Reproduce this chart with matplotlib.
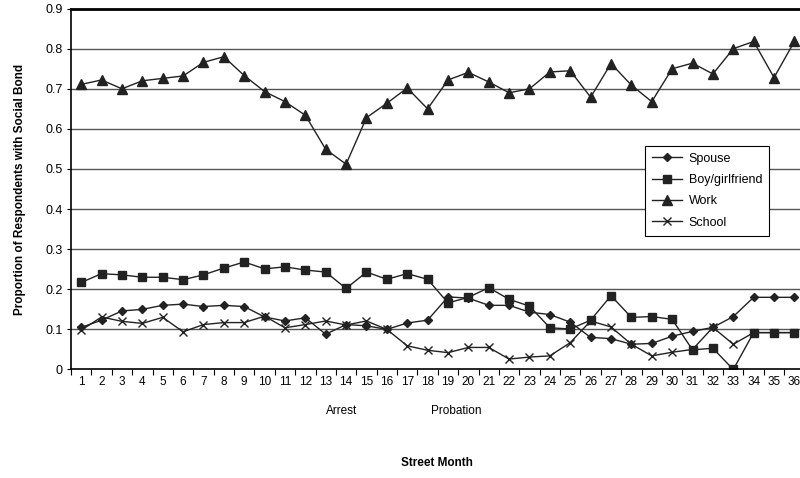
import numpy as np
import matplotlib
matplotlib.use("Agg")
from matplotlib import pyplot as plt
from matplotlib.ticker import FixedLocator, NullFormatter

plt.rcParams['font.family'] = ['Liberation Sans', 'DejaVu Sans']

months = list(range(1, 37))
spouse = [0.105, 0.123, 0.146, 0.150, 0.160, 0.163, 0.157, 0.160, 0.157, 0.131,
          0.121, 0.129, 0.088, 0.112, 0.109, 0.100, 0.116, 0.123, 0.181, 0.178,
          0.160, 0.160, 0.143, 0.137, 0.118, 0.080, 0.077, 0.063, 0.065, 0.083,
          0.095, 0.105, 0.132, 0.180, 0.180, 0.180]
boyfriend = [0.217, 0.239, 0.236, 0.230, 0.230, 0.224, 0.236, 0.253, 0.268, 0.251,
             0.256, 0.248, 0.243, 0.202, 0.243, 0.225, 0.239, 0.225, 0.166, 0.180,
             0.204, 0.175, 0.158, 0.104, 0.101, 0.123, 0.184, 0.130, 0.132, 0.125,
             0.049, 0.053, 0.000, 0.092, 0.092, 0.092]
work = [0.711, 0.722, 0.700, 0.720, 0.726, 0.732, 0.766, 0.780, 0.733, 0.693,
        0.668, 0.634, 0.549, 0.512, 0.628, 0.664, 0.702, 0.650, 0.722, 0.741,
        0.717, 0.690, 0.700, 0.742, 0.745, 0.679, 0.763, 0.709, 0.668, 0.750,
        0.764, 0.737, 0.800, 0.818, 0.728, 0.818]
school = [0.098, 0.131, 0.120, 0.115, 0.130, 0.094, 0.112, 0.117, 0.117, 0.133,
          0.104, 0.112, 0.121, 0.111, 0.121, 0.100, 0.059, 0.048, 0.042, 0.055,
          0.055, 0.026, 0.031, 0.034, 0.067, 0.121, 0.106, 0.063, 0.034, 0.043,
          0.050, 0.105, 0.063, 0.092, 0.092, 0.092]
events = {"Arrest": 13.8, "Probation": 19.4}

fig = plt.figure(figsize=(8, 4.78), dpi=100)
ax = fig.add_axes([0.08875, 0.227, 0.917, 0.755])

for y in np.arange(0.1, 0.85, 0.1):
    ax.axhline(y, color='#555555', lw=1.0, zorder=0)

lc = '#222222'
ax.plot(months, spouse, color=lc, lw=1, marker='D', ms=4.5, label='Spouse')
ax.plot(months, boyfriend, color=lc, lw=1, marker='s', ms=6, label='Boy/girlfriend')
ax.plot(months, work, color=lc, lw=1, marker='^', ms=6.5, label='Work')
ax.plot(months, school, color=lc, lw=1, marker='x', ms=6, mew=1, label='School')

ax.set_xlim(0.5, 36.5)
ax.set_ylim(0, 0.9)
ax.set_yticks(np.arange(0, 0.91, 0.1))
ax.set_yticklabels(['0', '0.1', '0.2', '0.3', '0.4', '0.5', '0.6', '0.7', '0.8', '0.9'])
ax.xaxis.set_major_locator(FixedLocator(np.arange(0.5, 37, 1)))
ax.xaxis.set_major_formatter(NullFormatter())
ax.xaxis.set_minor_locator(FixedLocator(months))
ax.set_xticklabels([str(m) for m in months], minor=True)
ax.tick_params(axis='x', which='major', length=4, direction='out', color='black')
ax.tick_params(axis='x', which='minor', length=0, pad=5, labelsize=8.5)
ax.tick_params(axis='y', length=3, labelsize=9, pad=3)

ax.spines['right'].set_visible(False)
ax.spines['top'].set_linewidth(2)
for s in ['left', 'bottom']:
    ax.spines[s].set_linewidth(1.2)

trans = ax.get_xaxis_transform()
for name, xpos in events.items():
    ax.text(xpos, -0.115, name, transform=trans, ha='center', va='center', fontsize=8.5)

fig.text(437 / 800, 1 - 463 / 478, 'Street Month', fontsize=8.5, fontweight='bold',
         ha='center', va='center')
ax.set_ylabel('Proportion of Respondents with Social Bond', fontsize=8.5,
              fontweight='bold', labelpad=14)

leg = ax.legend(loc='upper left', bbox_to_anchor=(0.783, 0.62), fontsize=9,
                frameon=True, fancybox=False, edgecolor='black', framealpha=1,
                handlelength=2.4, borderpad=0.55, labelspacing=0.75,
                borderaxespad=0, handletextpad=0.5)
leg.get_frame().set_linewidth(0.8)

fig.savefig('out.png', dpi=100)
